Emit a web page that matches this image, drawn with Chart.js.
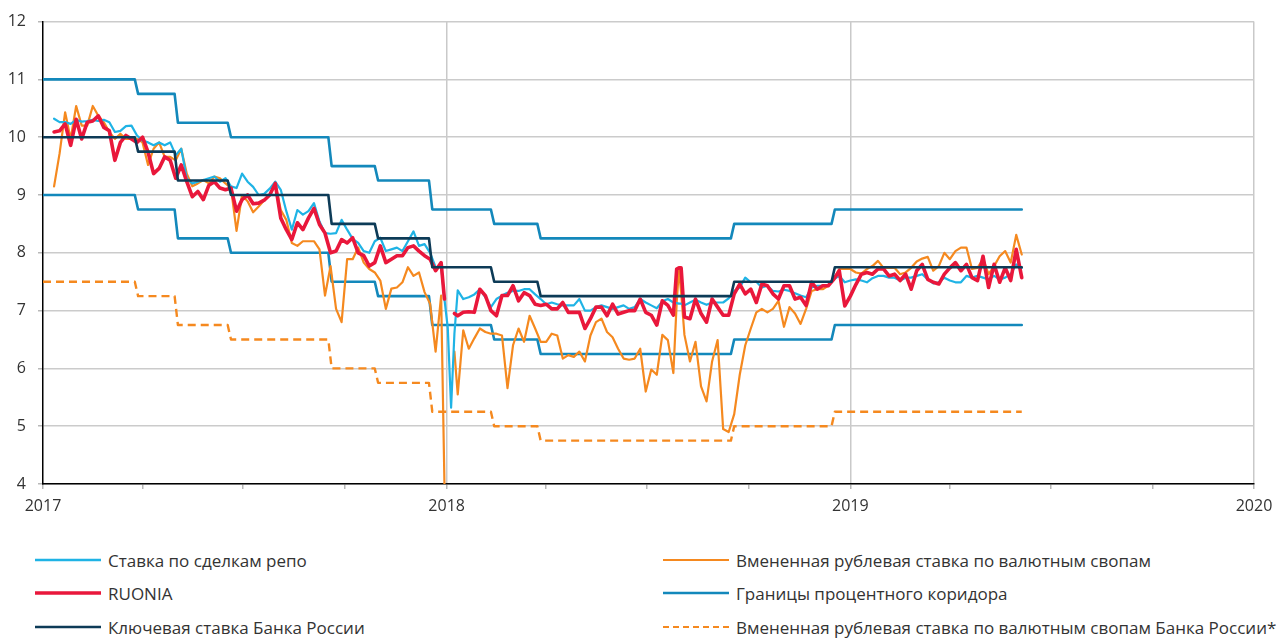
<!DOCTYPE html>
<html>
<head>
<meta charset="utf-8">
<script src="https://cdn.jsdelivr.net/npm/chart.js@4.4.1/dist/chart.umd.min.js"></script>
<style>
  html, body { margin: 0; padding: 0; background: #fff; }
  #wrap { position: relative; width: 1286px; height: 640px; overflow: hidden; }
  #chart { position: absolute; left: 0; top: 0; }
  .lg { position: absolute; display: flex; align-items: center; height: 24px; font-family: "Open Sans", sans-serif; font-size: 17px; color: #333; white-space: nowrap; }
  .lg svg { margin-right: 7px; flex: none; }
</style>
</head>
<body>
<div id="wrap">
  <canvas id="chart" width="1286" height="530"></canvas>
  <div id="legend"></div>
</div>
<script>
// ---- X axis: days since 2017-01-01 ----
const yearDays = [0, 365, 730, 1095];
const yearLabels = ['2017', '2018', '2019', '2020'];
const quarterDays = [0, 90, 181, 273, 365, 455, 546, 638, 730, 820, 911, 1003, 1095];

// ---- sampled days for the market rates ----
const sampleDays = [
  10,15,20,25,30,35,40,45,50,55,60,65,70,75,80,85,90,95,100,105,110,115,120,125,130,135,140,145,150,155,160,165,170,175,180,185,
  190,195,200,205,210,215,220,225,230,235,240,245,250,255,260,265,270,275,280,285,290,295,300,305,310,315,320,325,330,335,340,345,350,355,
  360,363,366,369,372,375,
  380,385,390,395,400,405,410,415,420,425,430,435,440,445,450,455,460,465,470,475,480,485,490,495,500,505,510,515,520,525,530,535,540,545,
  550,555,560,565,570,573,575,577,580,585,590,595,600,605,610,615,620,625,630,635,640,645,650,655,660,665,670,675,680,685,690,695,700,705,710,715,720,725,
  730,735,740,745,750,755,760,765,770,775,780,785,790,795,800,805,810,815,820,825,830,835,840,845,850,855,860,865,870,875,880,885
];
const repoRate = [
  10.32,10.26,10.26,10.23,10.30,10.27,10.28,10.30,10.28,10.30,10.26,10.09,10.11,10.19,10.20,10.03,9.94,9.91,9.86,9.91,9.86,9.91,9.69,9.80,9.29,9.20,9.23,9.26,9.29,9.32,9.23,9.29,9.15,9.12,9.37,9.23,
  9.14,9.00,9.02,9.11,9.23,9.09,8.72,8.40,8.74,8.66,8.72,8.86,8.54,8.34,8.33,8.34,8.57,8.40,8.24,8.17,8.03,8.00,8.20,8.26,8.03,8.06,8.09,8.03,8.20,8.37,8.12,8.15,8.00,7.75,
  7.77,7.20,6.70,5.32,6.60,7.35,
  7.20,7.23,7.28,7.37,7.23,7.06,7.20,7.26,7.31,7.34,7.34,7.37,7.37,7.28,7.20,7.11,7.14,7.11,7.09,7.09,7.09,7.20,7.00,7.00,7.06,7.09,7.06,7.03,7.06,7.09,7.03,7.06,7.20,7.14,
  7.09,7.04,7.16,7.20,7.14,7.13,7.12,7.12,7.09,7.14,7.19,7.14,7.10,7.14,7.14,7.14,7.21,7.34,7.40,7.57,7.49,7.50,7.40,7.43,7.34,7.33,7.36,7.34,7.30,7.26,7.23,7.40,7.43,7.43,7.43,7.54,7.60,7.49,
  7.52,7.54,7.52,7.49,7.56,7.60,7.60,7.57,7.57,7.52,7.57,7.57,7.60,7.63,7.54,7.47,7.49,7.57,7.52,7.49,7.49,7.60,7.57,7.60,7.57,7.54,7.60,7.54,7.57,7.63,7.80,7.74
];
const ruonia = [
  10.09,10.11,10.23,9.86,10.31,9.97,10.26,10.28,10.37,10.17,10.11,9.60,9.91,10.03,9.97,9.91,10.00,9.74,9.37,9.46,9.66,9.60,9.29,9.52,9.23,8.97,9.06,8.92,9.17,9.23,9.12,9.09,9.12,8.72,8.92,9.00,
  8.85,8.86,8.91,9.00,9.20,8.60,8.40,8.23,8.52,8.40,8.60,8.77,8.49,8.34,8.00,8.03,8.23,8.17,8.26,8.00,7.95,7.77,7.83,8.12,7.83,7.89,7.95,7.95,8.09,8.12,8.03,7.95,7.89,7.69,
  7.83,7.20,null,null,6.95,6.91,
  6.97,6.98,6.97,7.37,7.26,7.00,6.91,7.26,7.26,7.43,7.17,7.31,7.26,7.11,7.09,7.11,7.03,7.03,7.14,6.97,6.97,6.97,6.69,6.86,7.06,7.06,6.91,7.11,6.94,6.97,7.00,7.00,7.20,6.97,
  6.92,6.75,7.17,7.09,6.92,7.72,7.74,7.74,6.89,6.86,7.20,6.95,6.80,7.20,7.06,6.92,6.92,7.29,7.46,7.29,7.37,7.14,7.46,7.43,7.29,7.20,7.43,7.43,7.20,7.23,7.09,7.49,7.37,7.43,7.43,7.54,7.69,7.08,
  7.25,7.45,7.63,7.66,7.63,7.72,7.72,7.60,7.63,7.52,7.63,7.37,7.69,7.80,7.54,7.49,7.46,7.63,7.74,7.83,7.69,7.80,7.57,7.52,7.94,7.40,7.80,7.49,7.74,7.52,8.06,7.57
];
const fxSwapRate = [
  9.15,9.72,10.43,9.97,10.54,10.20,10.20,10.54,10.37,10.26,10.09,9.97,10.06,9.97,9.97,9.97,9.91,9.52,9.80,9.91,9.66,9.66,9.60,9.80,9.37,9.15,9.20,9.26,9.20,9.32,9.29,9.20,9.12,8.38,9.00,8.89,
  8.70,8.80,8.91,9.00,9.20,8.74,8.57,8.17,8.12,8.20,8.20,8.20,8.06,7.26,7.77,7.03,6.80,7.89,7.89,8.09,7.83,7.72,7.66,7.52,7.03,7.38,7.40,7.49,7.75,7.60,7.66,7.32,7.12,6.29,
  7.26,4.00,null,null,6.29,5.55,
  6.66,6.34,6.52,6.69,6.63,6.60,6.60,6.57,5.66,6.40,6.69,6.46,6.91,6.69,6.46,6.46,6.60,6.57,6.17,6.23,6.20,6.29,6.12,6.57,6.80,6.86,6.63,6.54,6.34,6.17,6.15,6.17,6.34,5.60,
  5.98,5.89,6.58,6.49,5.92,7.14,7.72,7.32,6.58,6.12,6.46,5.69,5.43,6.12,6.49,4.95,4.90,5.21,5.89,6.40,6.69,6.97,7.03,6.97,7.03,7.17,6.72,7.06,6.95,6.77,7.03,7.34,7.37,7.37,7.43,7.54,7.72,7.72,
  7.72,7.66,7.64,7.72,7.77,7.86,7.74,7.74,7.74,7.63,7.66,7.74,7.85,7.90,7.93,7.69,7.77,8.00,7.89,8.03,8.09,8.09,7.72,7.74,7.89,7.63,7.77,7.94,8.03,7.83,8.31,7.97
];

// ---- policy rates: day each level starts, and level values ----
const policyStartDays = [0, 85, 121, 169, 260, 302, 351, 407, 449, 624, 715];
const policyEndDay = 885;
const keyRate       = [10.00, 9.75, 9.25, 9.00, 8.50, 8.25, 7.75, 7.50, 7.25, 7.50, 7.75];
const corridorUpper = [11.00, 10.75, 10.25, 10.00, 9.50, 9.25, 8.75, 8.50, 8.25, 8.50, 8.75];
const corridorLower = [9.00, 8.75, 8.25, 8.00, 7.50, 7.25, 6.75, 6.50, 6.25, 6.50, 6.75];
const fxSwapBoR     = [7.50, 7.25, 6.75, 6.50, 6.00, 5.75, 5.25, 5.00, 4.75, 5.00, 5.25];

const labels = {
  repo: 'Ставка по сделкам репо',
  ruonia: 'RUONIA',
  key: 'Ключевая ставка Банка России',
  swap: 'Вмененная рублевая ставка по валютным свопам',
  corridor: 'Границы процентного коридора',
  swapBoR: 'Вмененная рублевая ставка по валютным свопам Банка России*'
};
const colors = {
  repo: '#1fb3e5', ruonia: '#e9173b', key: '#0d3b57', swap: '#f5891f', corridor: '#1388bb', swapBoR: '#f5891f'
};

function series(vals) {
  return sampleDays.map((d, i) => ({ x: d, y: vals[i] }));
}
function steps(levels) {
  const pts = [{ x: policyStartDays[0], y: levels[0] }];
  for (let i = 1; i < levels.length; i++) {
    pts.push({ x: policyStartDays[i] - 2, y: levels[i - 1] });
    pts.push({ x: policyStartDays[i] + 1, y: levels[i] });
  }
  pts.push({ x: policyEndDay, y: levels[levels.length - 1] });
  return pts;
}
const base = { pointRadius: 0, pointHoverRadius: 0, tension: 0, fill: false, spanGaps: false, borderJoinStyle: 'round', borderCapStyle: 'round' };

const datasets = [
  Object.assign({}, base, { label: labels.key, data: steps(keyRate), borderColor: colors.key, borderWidth: 2.6 }),
  Object.assign({}, base, { label: labels.ruonia, data: series(ruonia), borderColor: colors.ruonia, borderWidth: 3.6 }),
  Object.assign({}, base, { label: labels.repo, data: series(repoRate), borderColor: colors.repo, borderWidth: 2.2 }),
  Object.assign({}, base, { label: labels.swap, data: series(fxSwapRate), borderColor: colors.swap, borderWidth: 2.2 }),
  Object.assign({}, base, { label: labels.swapBoR, data: steps(fxSwapBoR), borderColor: colors.swapBoR, borderWidth: 2.4, borderDash: [8, 5], borderCapStyle: 'butt' }),
  Object.assign({}, base, { label: labels.corridor, data: steps(corridorUpper), borderColor: colors.corridor, borderWidth: 2.6 }),
  Object.assign({}, base, { label: labels.corridor, data: steps(corridorLower), borderColor: colors.corridor, borderWidth: 2.6 })
];

new Chart(document.getElementById('chart'), {
  type: 'line',
  data: { datasets },
  options: {
    responsive: false,
    animation: false,
    events: [],
    layout: { padding: { top: 16, right: 32, left: 0, bottom: 0 } },
    plugins: { legend: { display: false }, tooltip: { enabled: false } },
    scales: {
      x: {
        type: 'linear', min: 0, max: 1095,
        afterBuildTicks: s => { s.ticks = quarterDays.map(v => ({ value: v })); },
        afterFit: s => { s.height = 46; },
        ticks: {
          autoSkip: false, maxRotation: 0, padding: 8,
          font: { family: '"Open Sans", sans-serif', size: 16 }, color: '#333',
          callback: v => { const i = yearDays.indexOf(v); return i >= 0 ? yearLabels[i] : ''; }
        },
        grid: {
          color: c => (c.tick && yearDays.indexOf(c.tick.value) > 0) ? '#c9c9c9' : 'rgba(0,0,0,0)',
          tickColor: '#b8b8b8', tickLength: 5, lineWidth: 1.5
        },
        border: { color: '#000', width: 1.5 }
      },
      y: {
        min: 4, max: 12,
        afterFit: s => { s.width = 43; },
        ticks: { stepSize: 1, padding: 12, font: { family: '"Open Sans", sans-serif', size: 16 }, color: '#333' },
        grid: { color: '#cbcbcb', tickColor: '#b8b8b8', tickLength: 5, lineWidth: 1.5 },
        border: { color: '#000', width: 1.5 }
      }
    }
  }
});

// ---- HTML legend, two columns ----
const legendItems = [
  { key: 'repo', col: 0, row: 0 }, { key: 'ruonia', col: 0, row: 1 }, { key: 'key', col: 0, row: 2 },
  { key: 'swap', col: 1, row: 0 }, { key: 'corridor', col: 1, row: 1 }, { key: 'swapBoR', col: 1, row: 2 }
];
const widths = { repo: 2.4, ruonia: 3.6, key: 2.6, swap: 2.2, corridor: 2.6, swapBoR: 2.2 };
const colX = [35, 663];
const rowY = [560, 593, 627];
const lg = document.getElementById('legend');
legendItems.forEach(it => {
  const d = document.createElement('div');
  d.className = 'lg';
  d.style.left = colX[it.col] + 'px';
  d.style.top = (rowY[it.row] - 12) + 'px';
  const dash = it.key === 'swapBoR' ? ' stroke-dasharray="6 4"' : '';
  d.innerHTML = '<svg width="66" height="8"><line x1="0" y1="4" x2="66" y2="4" stroke="' + colors[it.key] +
    '" stroke-width="' + widths[it.key] + '"' + dash + ' stroke-linecap="' + (dash ? 'butt' : 'round') + '"/></svg>';
  const s = document.createElement('span');
  s.textContent = labels[it.key];
  d.appendChild(s);
  lg.appendChild(d);
});
</script>
</body>
</html>
